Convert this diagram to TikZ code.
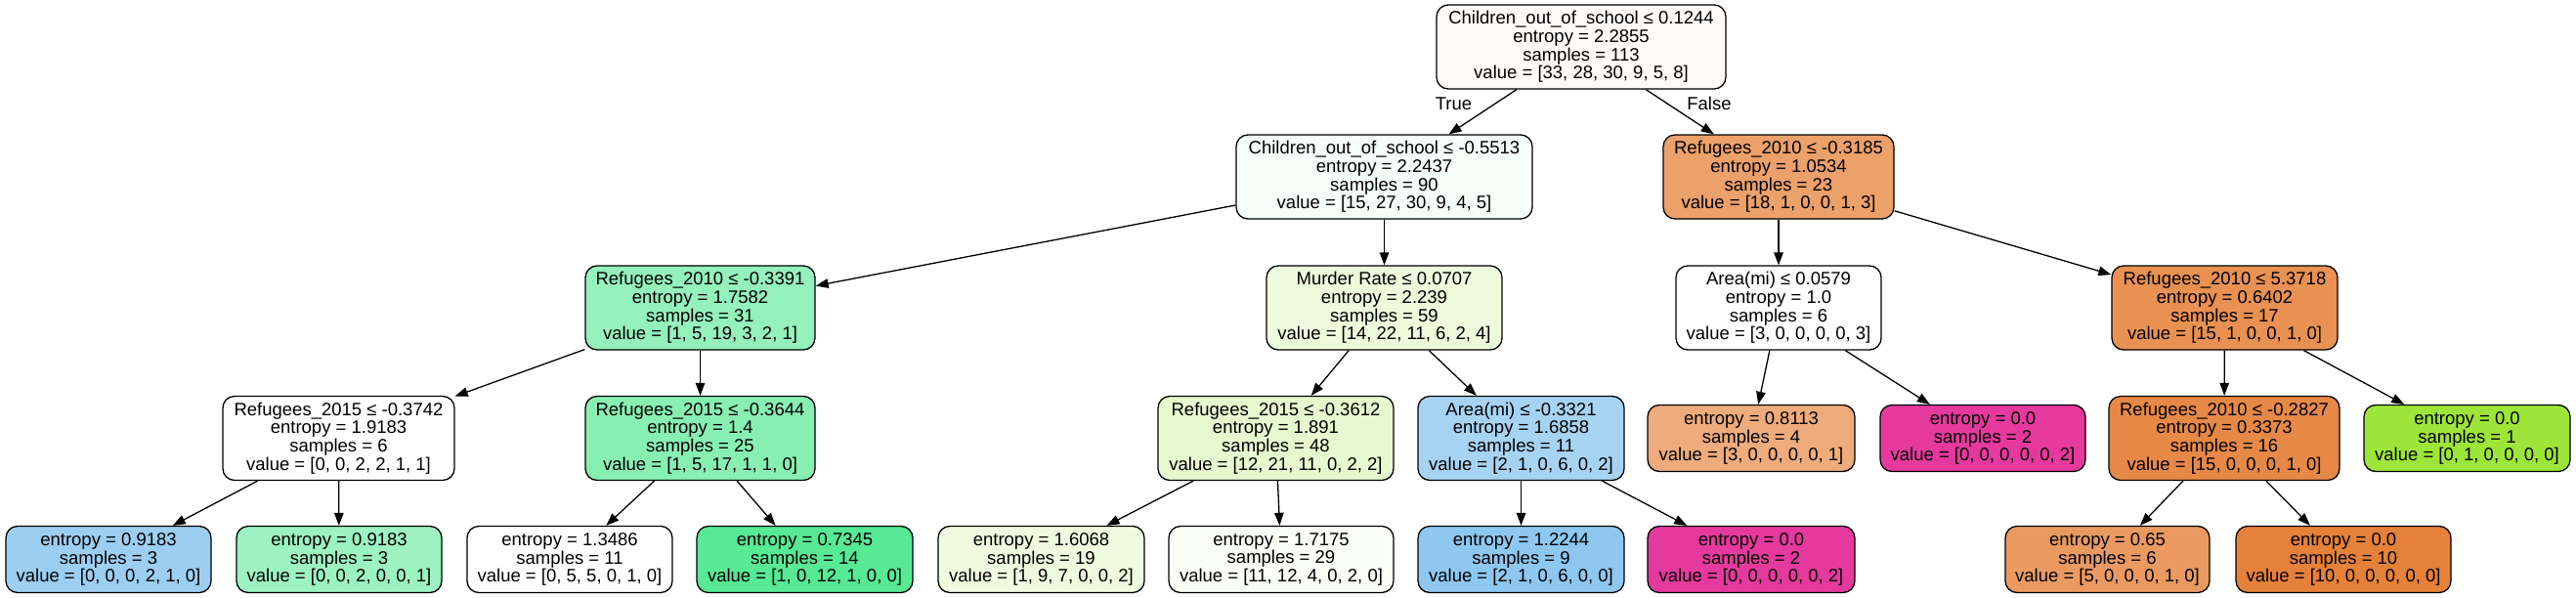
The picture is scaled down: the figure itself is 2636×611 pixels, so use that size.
\documentclass[tikz,border=0pt]{standalone}
\usepackage{fontspec}
\setmainfont{Liberation Sans}
\usetikzlibrary{arrows.meta}
\definecolor{cA}{RGB}{254,250,248}
\definecolor{cB}{RGB}{246,254,249}
\definecolor{cC}{RGB}{236,160,106}
\definecolor{cD}{RGB}{148,241,187}
\definecolor{cE}{RGB}{238,250,220}
\definecolor{cF}{RGB}{255,255,255}
\definecolor{cG}{RGB}{232,145,82}
\definecolor{cH}{RGB}{136,239,179}
\definecolor{cI}{RGB}{230,248,206}
\definecolor{cJ}{RGB}{167,211,243}
\definecolor{cK}{RGB}{238,171,123}
\definecolor{cL}{RGB}{229,57,157}
\definecolor{cM}{RGB}{231,137,70}
\definecolor{cN}{RGB}{157,229,57}
\definecolor{cO}{RGB}{156,206,242}
\definecolor{cP}{RGB}{156,242,192}
\definecolor{cQ}{RGB}{87,233,148}
\definecolor{cR}{RGB}{239,251,222}
\definecolor{cS}{RGB}{250,254,244}
\definecolor{cT}{RGB}{142,199,240}
\definecolor{cU}{RGB}{234,154,97}
\definecolor{cV}{RGB}{229,129,57}
\begin{document}
\begin{tikzpicture}[x=1pt,y=-1pt,
  tn/.style={draw=black, line width=1.3pt, rounded corners=12pt, align=center,
    inner sep=0pt, minimum height=86pt, font=\fontsize{18.5}{18.7}\selectfont},
  lf/.style={tn, minimum height=68pt},
  ed/.style={draw=black, line width=1.3pt, -{Triangle[length=13pt,width=9.5pt]}},
  elab/.style={inner sep=0pt, font=\fontsize{18.5}{18.7}\selectfont}]
\useasboundingbox[fill=white] (0,0) rectangle (2636,611);
% level 0
\node[tn, fill=cA, minimum width=296pt] (root) at (1618,48) {Children\_out\_of\_school ≤ 0.1244\\entropy = 2.2855\\samples = 113\\value = [33, 28, 30, 9, 5, 8]};
% level 1
\node[tn, fill=cB, minimum width=303pt] (n1) at (1416.5,181) {Children\_out\_of\_school ≤ -0.5513\\entropy = 2.2437\\samples = 90\\value = [15, 27, 30, 9, 4, 5]};
\node[tn, fill=cC, minimum width=236pt] (n2) at (1820,181) {Refugees\_2010 ≤ -0.3185\\entropy = 1.0534\\samples = 23\\value = [18, 1, 0, 0, 1, 3]};
% level 2
\node[tn, fill=cD, minimum width=235pt] (n3) at (716.5,315) {Refugees\_2010 ≤ -0.3391\\entropy = 1.7582\\samples = 31\\value = [1, 5, 19, 3, 2, 1]};
\node[tn, fill=cE, minimum width=241pt] (n4) at (1416.5,315) {Murder Rate ≤ 0.0707\\entropy = 2.239\\samples = 59\\value = [14, 22, 11, 6, 2, 4]};
\node[tn, fill=cF, minimum width=210pt] (n5) at (1820,315) {Area(mi) ≤ 0.0579\\entropy = 1.0\\samples = 6\\value = [3, 0, 0, 0, 0, 3]};
\node[tn, fill=cG, minimum width=231pt] (n6) at (2276.5,315) {Refugees\_2010 ≤ 5.3718\\entropy = 0.6402\\samples = 17\\value = [15, 1, 0, 0, 1, 0]};
% level 3
\node[tn, fill=cF, minimum width=237pt] (n7) at (346.5,448.5) {Refugees\_2015 ≤ -0.3742\\entropy = 1.9183\\samples = 6\\value = [0, 0, 2, 2, 1, 1]};
\node[tn, fill=cH, minimum width=235pt] (n8) at (716.5,448.5) {Refugees\_2015 ≤ -0.3644\\entropy = 1.4\\samples = 25\\value = [1, 5, 17, 1, 1, 0]};
\node[tn, fill=cI, minimum width=241pt] (n9) at (1305.5,448.5) {Refugees\_2015 ≤ -0.3612\\entropy = 1.891\\samples = 48\\value = [12, 21, 11, 0, 2, 2]};
\node[tn, fill=cJ, minimum width=211pt] (n10) at (1556.5,448.5) {Area(mi) ≤ -0.3321\\entropy = 1.6858\\samples = 11\\value = [2, 1, 0, 6, 0, 2]};
\node[lf, fill=cK, minimum width=212pt] (n11) at (1792,448.5) {entropy = 0.8113\\samples = 4\\value = [3, 0, 0, 0, 0, 1]};
\node[lf, fill=cL, minimum width=210pt] (n12) at (2029,448.5) {entropy = 0.0\\samples = 2\\value = [0, 0, 0, 0, 0, 2]};
\node[tn, fill=cM, minimum width=236pt] (n13) at (2276,448.5) {Refugees\_2010 ≤ -0.2827\\entropy = 0.3373\\samples = 16\\value = [15, 0, 0, 0, 1, 0]};
\node[lf, fill=cN, minimum width=211pt] (n14) at (2524.5,448.5) {entropy = 0.0\\samples = 1\\value = [0, 1, 0, 0, 0, 0]};
% level 4
\node[lf, fill=cO, minimum width=210pt] (l1) at (111,572.5) {entropy = 0.9183\\samples = 3\\value = [0, 0, 0, 2, 1, 0]};
\node[lf, fill=cP, minimum width=210pt] (l2) at (347,572.5) {entropy = 0.9183\\samples = 3\\value = [0, 0, 2, 0, 0, 1]};
\node[lf, fill=cF, minimum width=210pt] (l3) at (583,572.5) {entropy = 1.3486\\samples = 11\\value = [0, 5, 5, 0, 1, 0]};
\node[lf, fill=cQ, minimum width=221pt] (l4) at (823.5,572.5) {entropy = 0.7345\\samples = 14\\value = [1, 0, 12, 1, 0, 0]};
\node[lf, fill=cR, minimum width=211pt] (l5) at (1065.5,572.5) {entropy = 1.6068\\samples = 19\\value = [1, 9, 7, 0, 0, 2]};
\node[lf, fill=cS, minimum width=230pt] (l6) at (1311,572.5) {entropy = 1.7175\\samples = 29\\value = [11, 12, 4, 0, 2, 0]};
\node[lf, fill=cT, minimum width=211pt] (l7) at (1556.5,572.5) {entropy = 1.2244\\samples = 9\\value = [2, 1, 0, 6, 0, 0]};
\node[lf, fill=cL, minimum width=212pt] (l8) at (1792,572.5) {entropy = 0.0\\samples = 2\\value = [0, 0, 0, 0, 0, 2]};
\node[lf, fill=cU, minimum width=209pt] (l9) at (2156.5,572.5) {entropy = 0.65\\samples = 6\\value = [5, 0, 0, 0, 1, 0]};
\node[lf, fill=cV, minimum width=220pt] (l10) at (2398,572.5) {entropy = 0.0\\samples = 10\\value = [10, 0, 0, 0, 0, 0]};
% edges
\draw[ed] (root) -- (n1);
\draw[ed] (root) -- (n2);
\node[elab] (tlab) at (1487.5,106) {True};
\node[elab] (flab) at (1749,106) {False};
\draw[ed] (n1) -- (n3);
\draw[ed] (n1) -- (n4);
\draw[ed] (n2) -- (n5);
\draw[ed] (n2) -- (n6);
\draw[ed] (n3) -- (n7);
\draw[ed] (n3) -- (n8);
\draw[ed] (n4) -- (n9);
\draw[ed] (n4) -- (n10);
\draw[ed] (n5) -- (n11);
\draw[ed] (n5) -- (n12);
\draw[ed] (n6) -- (n13);
\draw[ed] (n6) -- (n14);
\draw[ed] (n7) -- (l1);
\draw[ed] (n7) -- (l2);
\draw[ed] (n8) -- (l3);
\draw[ed] (n8) -- (l4);
\draw[ed] (n9) -- (l5);
\draw[ed] (n9) -- (l6);
\draw[ed] (n10) -- (l7);
\draw[ed] (n10) -- (l8);
\draw[ed] (n13) -- (l9);
\draw[ed] (n13) -- (l10);
\end{tikzpicture}
\end{document}
